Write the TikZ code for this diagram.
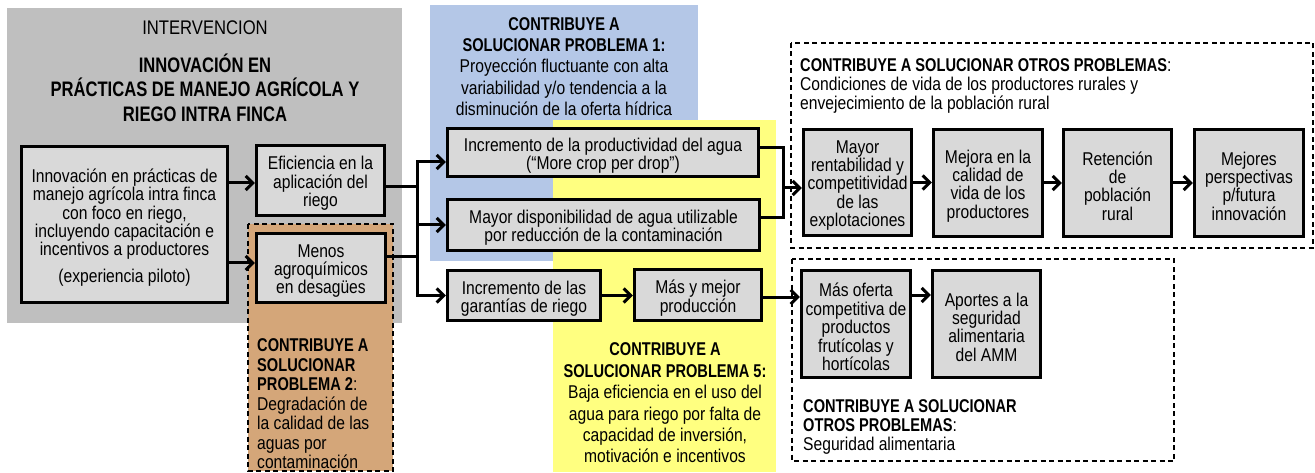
\documentclass[tikz,border=0pt]{standalone}
\usepackage{fontspec}
\setmainfont{Liberation Sans}[UprightFeatures={FakeStretch=0.845},BoldFeatures={FakeStretch=0.79}]
\usetikzlibrary{arrows.meta,calc}
\definecolor{bggray}{HTML}{BFBFBF}
\definecolor{boxgray}{HTML}{D9D9D9}
\definecolor{pblue}{HTML}{B4C7E7}
\definecolor{pyellow}{HTML}{FFFF80}
\definecolor{pbrown}{HTML}{D4A679}
\newcommand{\bodyfs}{\fontsize{18.5}{18.4}\selectfont}
\newcommand{\tsh}{3}
\newcommand{\bx}[5]{%
  \node[box, minimum width=#2, minimum height=#3] (#1) at #4 {};
  \node[boxtxt] (#1t) at ($(#1)+(0,\tsh)$) {#5};}
\begin{document}
\begin{tikzpicture}[x=1pt,y=-1pt,
  box/.style={draw, line width=3.5pt, fill=boxgray, inner sep=0pt},
  boxtxt/.style={align=center, inner sep=0pt, font=\bodyfs},
  ln/.style={line width=3pt},
  arr/.style={line width=3pt, -{Straight Barb[length=7pt,width=14pt]}},
  dashbox/.style={draw, line width=1.3pt, dash pattern=on 5pt off 3.5pt},
  txt/.style={inner sep=0pt, align=center}]
\useasboundingbox (0,0) rectangle (1315,473);
% background regions
\fill[bggray] (7,8) rectangle (402,323);
\fill[pblue] (430,5) rectangle (698,261);
\fill[pyellow] (553,120) rectangle (776,472);
\filldraw[fill=pbrown, dashbox] (248,224) rectangle (393,471);
\draw[dashbox] (791,43) rectangle (1313,248);
\draw[dashbox] (792,259) rectangle (1174,461);
% region texts
\node[txt, font=\fontsize{19.7}{20}\selectfont] (intv) at (205,28) {INTERVENCION};
\node[txt, font=\bfseries\fontsize{21}{24.5}\selectfont] (title) at (205,87.5) {INNOVACIÓN EN\\PRÁCTICAS DE MANEJO AGRÍCOLA Y\\RIEGO INTRA FINCA};
\node[txt, font=\fontsize{18.5}{21.3}\selectfont] (p1) at (564,66.5) {\textbf{CONTRIBUYE A}\\\textbf{SOLUCIONAR PROBLEMA 1:}\\Proyección fluctuante con alta\\variabilidad y/o tendencia a la\\disminución de la oferta hídrica};
\node[txt, font=\fontsize{18.5}{21.4}\selectfont] (p5) at (665,403) {\textbf{CONTRIBUYE A}\\\textbf{SOLUCIONAR PROBLEMA 5:}\\Baja eficiencia en el uso del\\agua para riego por falta de\\capacidad de inversión,\\motivación e incentivos};
\node[txt, align=left, anchor=west, font=\fontsize{18.5}{19.5}\selectfont] (p2) at (257,404) {\textbf{CONTRIBUYE A}\\\textbf{SOLUCIONAR}\\\textbf{PROBLEMA 2}:\\Degradación de\\la calidad de las\\aguas por\\contaminación};
\node[txt, align=left, anchor=west, font=\fontsize{18.5}{19}\selectfont] (po1) at (800,86) {\textbf{CONTRIBUYE A SOLUCIONAR OTROS PROBLEMAS}:\\Condiciones de vida de los productores rurales y\\envejecimiento de la población rural};
\node[txt, align=left, anchor=west, font=\fontsize{18.5}{19}\selectfont] (po2) at (803,427) {\textbf{CONTRIBUYE A SOLUCIONAR}\\\textbf{OTROS PROBLEMAS}:\\Seguridad alimentaria};
% boxes
\bx{A}{206}{156}{(124.5,224.5)}{Innovación en prácticas de\\manejo agrícola intra finca\\con foco en riego,\\incluyendo capacitación e\\incentivos a productores\\[8pt](experiencia piloto)}
\bx{B}{128}{70}{(320.5,180.5)}{Eficiencia en la\\aplicación del\\riego}
\bx{C}{129}{69}{(321,268)}{Menos\\agroquímicos\\en desagües}
\bx{D}{311}{48}{(603,152.5)}{Incremento de la productividad del agua\\(“More crop per drop”)}
\bx{E}{312}{51}{(603.5,225)}{Mayor disponibilidad de agua utilizable\\por reducción de la contaminación}
\bx{F}{153}{50}{(524,295.5)}{Incremento de las\\garantías de riego}
\bx{G}{127}{51}{(698,295)}{Más y mejor\\producción}
\bx{H}{108}{106}{(857.5,182.5)}{Mayor\\rentabilidad y\\competitividad\\de las\\explotaciones}
\bx{I}{109}{107}{(988,183)}{Mejora en la\\calidad de\\vida de los\\productores}
\bx{J}{108}{107}{(1117.5,183)}{Retención\\de\\población\\rural}
\bx{K}{109}{107}{(1249,183)}{Mejores\\perspectivas\\p/futura\\innovación}
\bx{L}{109}{107}{(856,324)}{Más oferta\\competitiva de\\productos\\frutícolas y\\hortícolas}
\bx{M}{108}{107}{(986.5,324)}{Aportes a la\\seguridad\\alimentaria\\del AMM}
% connectors
\coordinate (bus) at (417,0);
\coordinate (join) at (783,0);
\coordinate (bIn) at ($(B.west)+(0,2.5)$);
\coordinate (cIn) at ($(C.west)+(0,-5)$);
\coordinate (bOut) at ($(B.east)+(0,6.5)$);
\coordinate (cOut) at ($(C.east)+(0,-11)$);
\coordinate (dIn) at ($(D.west)+(0,9.5)$);
\coordinate (dOut) at ($(D.east)+(0,-4.5)$);
\coordinate (eOut) at ($(E.east)+(0,-7)$);
\coordinate (hIn) at ($(H.west)+(0,5.5)$);
\coordinate (gOut) at ($(G.east)+(0,2)$);
\coordinate (lOut) at ($(L.east)+(0,-29)$);
\draw[arr] (bIn -| A.east) -- (bIn);
\draw[arr] (cIn -| A.east) -- (cIn);
\draw[arr] (bOut) -- (bOut -| bus) |- (dIn);
\draw[arr] (cOut) -- (cOut -| bus) |- (F.west);
\draw[ln] (bOut -| bus) -- (cOut -| bus);
\draw[arr] (E.west -| bus) -- (E.west);
\draw[ln] (dOut) -- (dOut -| join) -- (eOut -| join) -- (eOut);
\draw[arr] (hIn -| join) -- (hIn);
\draw[arr] (F.east) -- (F.east -| G.west);
\draw[arr] (gOut) -- (gOut -| L.west);
\draw[arr] (H.east) -- (H.east -| I.west);
\draw[arr] (I.east) -- (I.east -| J.west);
\draw[arr] (J.east) -- (J.east -| K.west);
\draw[arr] (lOut) -- (lOut -| M.west);
\end{tikzpicture}
\end{document}
